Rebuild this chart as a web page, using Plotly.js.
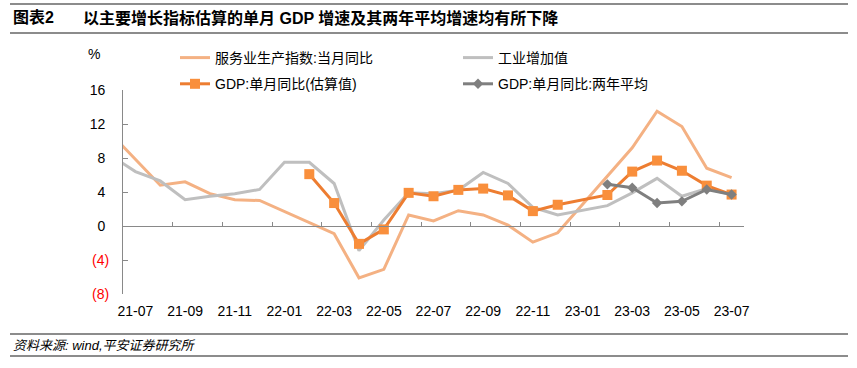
<!DOCTYPE html>
<html>
<head>
<meta charset="utf-8">
<script src="https://cdn.plot.ly/plotly-3.0.1.min.js"></script>
<style>html,body{margin:0;padding:0;background:#fff;}#chart{width:857px;height:368px;}</style>
</head>
<body>
<div id="chart"></div>
<script>
// Month categories (21-06 included so the lines run to the left edge, as in the source)
const months = ["21-06","21-07","21-08","21-09","21-10","21-11","21-12",
  "22-01","22-02","22-03","22-04","22-05","22-06","22-07","22-08","22-09","22-10","22-11","22-12",
  "23-01","23-02","23-03","23-04","23-05","23-06","23-07"];
const tickLabels = ["21-07","21-09","21-11","22-01","22-03","22-05","22-07","22-09","22-11","23-01","23-03","23-05","23-07"];

const serviceIdx = [10.9,7.8,4.8,5.2,3.8,3.1,3.0,
  null,null,-0.9,-6.1,-5.1,1.3,0.6,1.8,1.3,0.1,-1.9,-0.8,
  null,null,9.2,13.5,11.7,6.8,5.7];
const industry = [8.3,6.4,5.3,3.1,3.5,3.8,4.3,
  7.5,7.5,5.0,-2.9,0.7,3.9,3.8,4.2,6.3,5.0,2.2,1.3,
  null,2.4,3.9,5.6,3.5,4.4,3.7];
const gdpEst = [null,null,null,null,null,null,null,
  null,6.1,2.7,-2.1,-0.4,3.9,3.5,4.25,4.4,3.6,1.75,2.5,
  null,3.65,6.4,7.7,6.5,4.75,3.7];
const gdp2y = [null,null,null,null,null,null,null,
  null,null,null,null,null,null,null,null,null,null,null,null,
  null,4.9,4.5,2.7,2.9,4.3,3.7];

const yTicks = [-8,-4,0,4,8,12,16];

const xs = months.map((m,i)=>i);
const FONT = "'Liberation Sans', Arial, 'Noto Sans CJK SC', sans-serif";

const traces = [
  {x: xs, y: serviceIdx, name: "服务业生产指数:当月同比", mode: "lines", connectgaps: true,
   legend: "legend", legendgroup: "a", legendrank: 1,
   line: {color: "#F4B183", width: 3}},
  {x: xs, y: industry, name: "工业增加值", mode: "lines", connectgaps: true,
   legend: "legend2", legendgroup: "b", legendrank: 1,
   line: {color: "#BFBFBF", width: 3}},
  {x: xs, y: gdpEst, name: "GDP:单月同比(估算值)", mode: "lines+markers", connectgaps: true,
   legend: "legend", legendgroup: "c", legendrank: 2,
   line: {color: "#ED7D31", width: 3}, marker: {symbol: "square", size: 10, color: "#F98F3C"}},
  {x: xs, y: gdp2y, name: "GDP:单月同比:两年平均", mode: "lines+markers", connectgaps: true,
   legend: "legend2", legendgroup: "d", legendrank: 2,
   line: {color: "#7F7F7F", width: 3}, marker: {symbol: "diamond", size: 8, color: "#7F7F7F"}},
  // carrier for the zero-line axis
  {x: xs, y: months.map(()=>null), xaxis: "x2", showlegend: false, hoverinfo: "skip", mode: "lines"}
];

const L = 123, R = 113, T = 90, B = 74, W = 857, H = 368;
const pw = W - L - R, ph = H - T - B;
const px = v => (v - L) / pw;
const py = v => (H - B - v) / ph;

const boundaries = [];
for (let i = 0; i < tickLabels.length; i++) boundaries.push(months.indexOf(tickLabels[i]) - 0.5);

const legendBase = {orientation: "v", xref: "paper", yref: "paper", y: py(42),
  xanchor: "left", yanchor: "top", tracegroupgap: 5, itemwidth: 30, bgcolor: "rgba(0,0,0,0)",
  font: {family: FONT, size: 14, color: "#000"}};

const layout = {
  width: W, height: H,
  margin: {l: L, r: R, t: T, b: B, autoexpand: false},
  paper_bgcolor: "#fff", plot_bgcolor: "rgba(0,0,0,0)",
  font: {family: FONT, size: 14, color: "#000"},
  showlegend: true,
  legend: Object.assign({}, legendBase, {x: px(175)}),
  legend2: Object.assign({}, legendBase, {x: px(458)}),
  xaxis: {range: [0.5, months.length - 0.5], tickmode: "array",
    tickvals: tickLabels.map(l => months.indexOf(l)), ticktext: tickLabels,
    showline: false, ticks: "", showgrid: false, zeroline: false, ticklabelstandoff: 7,
    tickfont: {family: FONT, size: 14, color: "#000"}},
  xaxis2: {overlaying: "x", matches: "x", anchor: "free", position: 8/24, side: "bottom",
    showline: true, linecolor: "#898989", linewidth: 1, ticks: "inside", ticklen: 4, tickwidth: 1,
    tickcolor: "#898989", tickmode: "array", tickvals: boundaries, showticklabels: false,
    showgrid: false, zeroline: false},
  yaxis: {range: [-8, 16], tickmode: "array", tickvals: yTicks,
    ticktext: yTicks.map(v => v < 0 ? '<span style="color:#FF0000">(' + Math.abs(v) + ')</span>' : v + "\u2008"),
    showline: true, linecolor: "#898989", linewidth: 1, ticks: "inside", ticklen: 5, tickcolor: "#898989",
    showgrid: false, zeroline: false, ticklabelstandoff: 10,
    tickfont: {family: FONT, size: 14, color: "#000"}},
  annotations: [
    {xref: "paper", yref: "paper", x: px(11), y: py(18), xanchor: "left", yanchor: "middle",
     text: "<b>图表2</b>", showarrow: false, font: {family: FONT, size: 16, color: "#000"}},
    {xref: "paper", yref: "paper", x: px(81), y: py(18), xanchor: "left", yanchor: "middle",
     text: "<b>以主要增长指标估算的单月 GDP 增速及其两年平均增速均有所下降</b>", showarrow: false,
     font: {family: FONT, size: 16, color: "#000"}},
    {xref: "paper", yref: "paper", x: px(94), y: py(54), xanchor: "center", yanchor: "middle",
     text: "%", showarrow: false, font: {family: FONT, size: 14, color: "#000"}},
    {xref: "paper", yref: "paper", x: px(11), y: py(345), xanchor: "left", yanchor: "middle",
     text: "<i>资料来源: wind,平安证券研究所</i>", showarrow: false,
     font: {family: FONT, size: 13, color: "#000"}}
  ],
  shapes: [
    {type: "line", xref: "paper", yref: "paper", x0: px(10), x1: px(848), y0: py(4), y1: py(4), line: {color: "#8C8C8C", width: 2}},
    {type: "line", xref: "paper", yref: "paper", x0: px(10), x1: px(848), y0: py(33), y1: py(33), line: {color: "#8C8C8C", width: 2}},
    {type: "line", xref: "paper", yref: "paper", x0: px(10), x1: px(848), y0: py(334), y1: py(334), line: {color: "#8C8C8C", width: 2}},
    {type: "line", xref: "paper", yref: "paper", x0: px(10), x1: px(848), y0: py(356), y1: py(356), line: {color: "#8C8C8C", width: 2}}
  ]
};

Plotly.newPlot("chart", traces, layout, {displayModeBar: false, staticPlot: true});
</script>
</body>
</html>
